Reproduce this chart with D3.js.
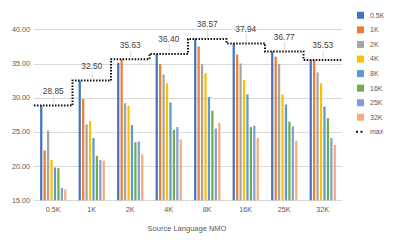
<!DOCTYPE html>
<html><head><meta charset="utf-8">
<script src="https://cdn.jsdelivr.net/npm/d3@7"></script>
<style>body{margin:0;background:#fff}svg{display:block}text{font-family:"Liberation Sans",Arial,sans-serif}</style>
</head><body><svg id="c" width="397" height="245"></svg>
<script>
const categories = ["0.5K","1K","2K","4K","8K","16K","25K","32K"];
const seriesNames = ["0.5K","1K","2K","4K","8K","16K","25K","32K"];
const colors = ["#4472C4","#ED7D31","#A5A5A5","#FFC000","#5B9BD5","#70AD47","#7F9FD9","#F4AC7D"];
// values[category][series]
const s_05K = [28.85,22.3,25.2,20.9,19.8,19.7,16.8,16.6];
const s_1K  = [32.50,29.8,26.1,26.6,24.1,21.5,20.9,20.8];
const s_2K  = [35.1,35.63,29.2,28.8,26.0,23.5,23.6,21.7];
const s_4K  = [36.40,34.9,33.4,32.1,29.3,25.3,25.7,23.9];
const s_8K  = [38.57,37.5,34.9,33.6,30.1,28.1,25.5,26.3];
const s_16K = [37.94,36.3,35.0,32.6,30.5,25.7,25.9,24.1];
const s_25K = [36.77,36.0,34.9,30.5,29.0,26.5,25.8,23.7];
const s_32K = [35.53,35.5,33.7,32.1,28.7,27.0,24.1,23.1];
const groupValues = [s_05K,s_1K,s_2K,s_4K,s_8K,s_16K,s_25K,s_32K];
const maxValues = [28.85,32.50,35.63,36.40,38.57,37.94,36.77,35.53];
const yTicks = [15,20,25,30,35,40];
const maxLabel = "max";
const xTitle = "Source Language NMO";

const svg = d3.select("#c");
const L = 34, R = 342, T = 29.3, B = 200.3;
const y = d3.scaleLinear().domain([15,40]).range([B,T]);
const x0 = d3.scaleBand().domain(categories).range([L,R]).paddingInner(0.3).paddingOuter(0.15);
const x1 = d3.scaleBand().domain(seriesNames).range([0,x0.bandwidth()]).paddingInner(0.35).paddingOuter(0.1);

// gridlines
svg.append("g").selectAll("line").data(yTicks).join("line")
  .attr("x1",L).attr("x2",R).attr("y1",d=>Math.round(y(d))+0.5).attr("y2",d=>Math.round(y(d))+0.5)
  .attr("stroke","#d9d9d9").attr("stroke-width",1);

// y tick labels
svg.append("g").selectAll("text").data(yTicks).join("text")
  .attr("x",30).attr("y",d=>y(d)).attr("dy","0.35em").attr("text-anchor","end")
  .attr("font-size",7.2).attr("fill","#595959").text(d=>d.toFixed(2));

// bars
const g = svg.append("g").selectAll("g").data(categories).join("g")
  .attr("transform",c=>`translate(${x0(c)},0)`);
g.selectAll("rect").data((c,i)=>groupValues[i].map((v,j)=>({s:seriesNames[j],v,j}))).join("rect")
  .attr("x",d=>x1(d.s)).attr("width",x1.bandwidth())
  .attr("y",d=>y(d.v)).attr("height",d=>y(15)-y(d.v))
  .attr("fill",d=>colors[d.j]);

// x tick labels
svg.append("g").selectAll("text").data(categories).join("text")
  .attr("x",c=>x0(c)+x0.bandwidth()/2).attr("y",209).attr("dy","0.35em").attr("text-anchor","middle")
  .attr("font-size",7.2).attr("fill","#595959").text(c=>c);

svg.append("text").attr("x",187).attr("y",228.5).attr("dy","0.35em").attr("text-anchor","middle")
  .attr("font-size",7.5).attr("fill","#595959").text(xTitle);

// max step line
const step = x0.step();
const start = x0.range()[0];
const pts = maxValues.map((v,i)=>[start + i*step, y(v)]);
pts.push([x0.range()[1], y(maxValues[maxValues.length-1])]);
svg.append("path").attr("d",d3.line().curve(d3.curveStepAfter)(pts))
  .attr("fill","none").attr("stroke","#111").attr("stroke-width",2).attr("stroke-dasharray","1.5,1.5");

// leader lines & labels
const lab = svg.append("g");
categories.forEach((c,i)=>{
  const cx = x0(c)+x0.bandwidth()/2;
  const yy = y(maxValues[i]);
  lab.append("line").attr("x1",cx+0.5).attr("x2",cx+0.5).attr("y1",yy-9).attr("y2",yy-1.5)
    .attr("stroke","#d9d9d9").attr("stroke-width",1);
  lab.append("text").attr("x",cx).attr("y",yy-14.5).attr("dy","0.35em").attr("text-anchor","middle")
    .attr("font-size",8.3).attr("fill","#404040").text(maxValues[i].toFixed(2));
});

// legend
const leg = svg.append("g");
seriesNames.forEach((s,i)=>{
  const cy = 15.3 + i*14.57;
  leg.append("rect").attr("x",357).attr("y",cy-3.5).attr("width",7).attr("height",7).attr("fill",colors[i]);
  leg.append("text").attr("x",370).attr("y",cy).attr("dy","0.35em").attr("font-size",7)
    .attr("fill","#595959").text(s);
});
const my = 15.3 + 8*14.57;
leg.append("line").attr("x1",356).attr("x2",364).attr("y1",my).attr("y2",my)
  .attr("stroke","#111").attr("stroke-width",2).attr("stroke-dasharray","2,2.5");
leg.append("text").attr("x",370).attr("y",my).attr("dy","0.35em").attr("font-size",7)
  .attr("fill","#595959").text(maxLabel);
</script></body></html>
